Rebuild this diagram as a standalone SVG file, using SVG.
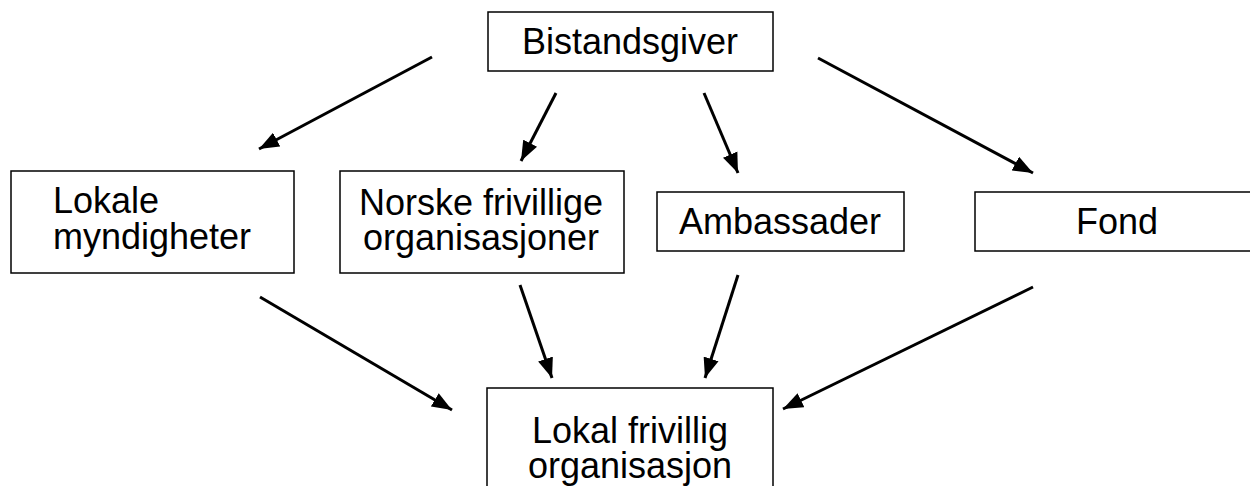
<svg xmlns="http://www.w3.org/2000/svg" width="1250" height="486" viewBox="0 0 1250 486">
<style>
.box{fill:#fff;stroke:#000;stroke-width:1.5}
.t{font-family:"Liberation Sans",Arial,sans-serif;font-size:36px;fill:#000}
.c{text-anchor:middle}
.ln{stroke:#000;stroke-width:3;fill:none;marker-end:url(#ah)}
</style>
<defs>
<marker id="ah" markerUnits="userSpaceOnUse" markerWidth="20" markerHeight="16" refX="18" refY="7" orient="auto" viewBox="0 0 18 14">
<path d="M0,0 L18,7 L0,14 Z" fill="#000"/>
</marker>
</defs>
<rect width="1250" height="486" fill="#fff"/>
<g id="connectors">
<line class="ln" x1="432" y1="57" x2="259" y2="149"/>
<line class="ln" x1="556" y1="93" x2="521" y2="161"/>
<line class="ln" x1="704" y1="93" x2="738" y2="173"/>
<line class="ln" x1="818" y1="58" x2="1033" y2="173"/>
<line class="ln" x1="260" y1="297" x2="452" y2="410"/>
<line class="ln" x1="520" y1="285" x2="552" y2="378"/>
<line class="ln" x1="738" y1="275" x2="705" y2="378"/>
<line class="ln" x1="1033" y1="287" x2="783" y2="409"/>
</g>
<g id="bistandsgiver">
<rect class="box" x="488" y="12" width="285" height="59"/>
<text class="t c" x="630" y="54">Bistandsgiver</text>
</g>
<g id="lokale">
<rect class="box" x="11" y="171" width="283" height="102"/>
<text class="t" x="53" y="213">Lokale</text>
<text class="t" x="53" y="249">myndigheter</text>
</g>
<g id="norske">
<rect class="box" x="340" y="171" width="284" height="102"/>
<text class="t c" x="481" y="215">Norske frivillige</text>
<text class="t c" x="481" y="250">organisasjoner</text>
</g>
<g id="ambassader">
<rect class="box" x="657" y="192" width="247" height="59"/>
<text class="t c" x="780" y="234">Ambassader</text>
</g>
<g id="fond">
<rect class="box" x="975" y="192" width="285" height="59"/>
<text class="t c" x="1117" y="234">Fond</text>
</g>
<g id="lokal-frivillig">
<rect class="box" x="487" y="388" width="286" height="110"/>
<text class="t c" x="630" y="443">Lokal frivillig</text>
<text class="t c" x="630" y="478">organisasjon</text>
</g>
</svg>
